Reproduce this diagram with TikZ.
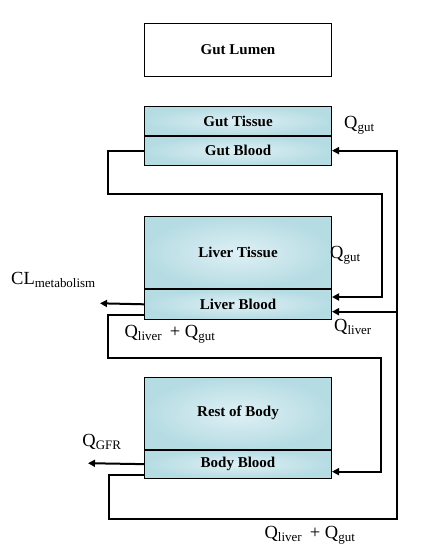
\documentclass[tikz,border=0pt]{standalone}
\usepackage{fontspec}
\setmainfont{Liberation Serif}
\usetikzlibrary{calc}
\usetikzlibrary{arrows.meta, positioning}
\definecolor{boxin}{RGB}{222,240,245}
\definecolor{boxout}{RGB}{182,220,227}
\tikzstyle{compbox} = [rectangle,
minimum width=187pt,
text centered,
draw=black,
line width=1pt,
inner color=boxin,
outer color=boxout,
font=\fontsize{15}{17}\selectfont\bfseries]
\tikzstyle{flowlabel} = [inner sep=0pt, font=\fontsize{18.5}{20}\selectfont]
\tikzstyle{arrow} = [line width=2pt,-{Triangle[length=7pt,width=7pt]}]

\begin{document}
\begin{tikzpicture}[x=1pt, y=-1pt]
    \useasboundingbox (0,0) rectangle (421,559);

    % Compartments
    \node (lumen) [compbox, minimum height=52.7pt, inner color=white, outer color=white] at (238,49.7) {Gut Lumen};
    \node (gtis) [compbox, minimum height=28.6pt] at (238,121) {Gut Tissue};
    \node (gblood) [compbox, minimum height=28.7pt, below=0pt of gtis] {Gut Blood};
    \node (ltis) [compbox, minimum height=71.6pt] at (238,252.5) {Liver Tissue};
    \node (lblood) [compbox, minimum height=30pt, below=0pt of ltis] {Liver Blood};
    \node (rbody) [compbox, minimum height=72pt] at (238,413.3) {Rest of Body};
    \node (bblood) [compbox, minimum height=27.7pt, below=0pt of rbody] {Body Blood};

    % Bends of the blood lines
    \coordinate (gutbend) at (382,194.3);
    \coordinate (livbend) at (381,357.7);
    \coordinate (retbend) at (396.7,519.3);
    \coordinate (clend) at (100,303.3);
    \coordinate (gfrend) at (88,463.2);
    \coordinate (livin) at ($(lblood.east)+(0,7.4)$);

    % Gut blood to liver blood
    \draw [arrow] (gblood.west) -- ++(-36,0) |- (gutbend) |- ($(lblood.east)+(0,-7.3)$);
    % Liver blood to body blood
    \draw [arrow] ($(lblood.west)+(0,10.7)$) -- ++(-36,0) |- (livbend) |- ($(bblood.east)+(0,7.5)$);
    % Body blood back to gut and liver
    \draw [arrow] ($(bblood.west)+(0,11.1)$) -- ++(-35,0) |- (retbend) |- (gblood.east);
    \draw [arrow] (retbend |- livin) -- (livin);

    % Clearance
    \draw [arrow] (lblood.west) -- (clend);
    \draw [arrow] (bblood.west) -- (gfrend);

    % Flow labels
    \node (qgut1) [flowlabel, anchor=west] at (344,125) {Q\textsubscript{gut}};
    \node (qgut2) [flowlabel, anchor=west] at (330,255) {Q\textsubscript{gut}};
    \node (clmet) [flowlabel, anchor=west] at (11,280) {CL\textsubscript{metabolism}};
    \node (qlg1) [flowlabel] at (170,334) {Q\textsubscript{liver}\, + Q\textsubscript{gut}};
    \node (qliv) [flowlabel] at (353,327) {Q\textsubscript{liver}};
    \node (qgfr) [flowlabel] at (102,442) {Q\textsubscript{GFR}};
    \node (qlg2) [flowlabel] at (310,535) {Q\textsubscript{liver}\, + Q\textsubscript{gut}};
\end{tikzpicture}
\end{document}
